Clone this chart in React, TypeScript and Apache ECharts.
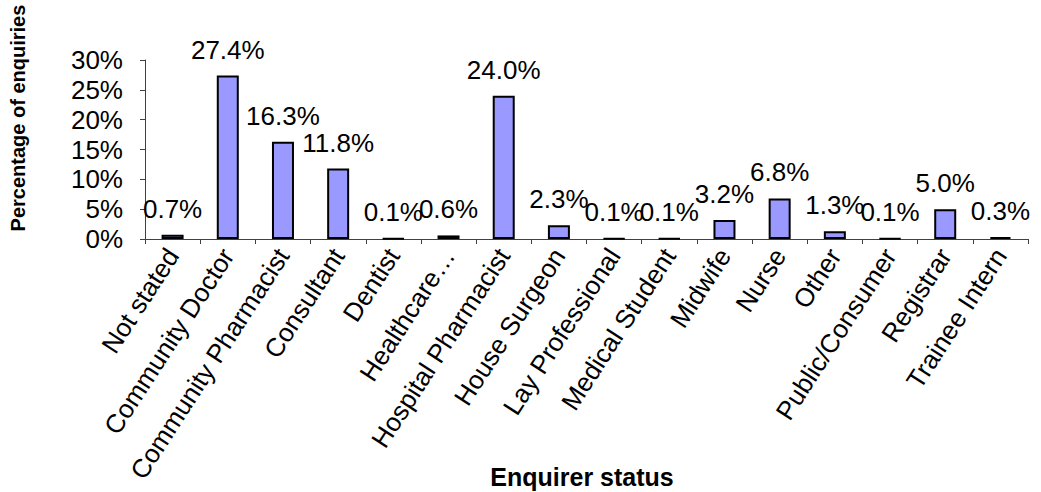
import React, { useEffect, useRef } from "react";
import * as echarts from "echarts";

const categories = [
  "Not stated",
  "Community Doctor",
  "Community Pharmacist",
  "Consultant",
  "Dentist",
  "Healthcare…",
  "Hospital Pharmacist",
  "House Surgeon",
  "Lay Professional",
  "Medical Student",
  "Midwife",
  "Nurse",
  "Other",
  "Public/Consumer",
  "Registrar",
  "Trainee Intern",
];
const percentages = [0.7, 27.4, 16.3, 11.8, 0.1, 0.6, 24.0, 2.3, 0.1, 0.1, 3.2, 6.8, 1.3, 0.1, 5.0, 0.3];
const yTicks = { min: 0, max: 30, interval: 5 };
const yTitle = "Percentage of enquiries";
const xTitle = "Enquirer status";

const FONT = "Liberation Sans, Arial, sans-serif";

export default function App() {
  const ref = useRef<HTMLDivElement>(null);
  useEffect(() => {
    if (!ref.current) return;
    const chart = echarts.init(ref.current, null, { renderer: "svg" });
    chart.setOption({
      animation: false,
      backgroundColor: "#fff",
      grid: { left: 145, right: 13, top: 60, bottom: 253, containLabel: false },
      xAxis: {
        type: "category",
        data: categories,
        boundaryGap: true,
        axisLine: { show: true, lineStyle: { color: "#404040", width: 1 } },
        axisTick: { show: true, length: 5, lineStyle: { color: "#404040" } },
        axisLabel: {
          interval: 0,
          rotate: 57,
          margin: 12,
          fontSize: 26,
          fontFamily: FONT,
          color: "#000",
        },
      },
      yAxis: {
        type: "value",
        min: yTicks.min,
        max: yTicks.max,
        interval: yTicks.interval,
        splitLine: { show: false },
        axisLine: { show: true, lineStyle: { color: "#404040", width: 1 } },
        axisTick: { show: true, length: 5, lineStyle: { color: "#404040" } },
        axisLabel: {
          formatter: "{value}%",
          margin: 22,
          fontSize: 26,
          fontFamily: FONT,
          color: "#000",
        },
      },
      graphic: [
        {
          type: "text",
          x: 18,
          y: 118,
          rotation: Math.PI / 2,
          style: {
            text: yTitle,
            font: `bold 20px ${FONT}`,
            fill: "#000",
            align: "center",
            verticalAlign: "middle",
          },
        },
        {
          type: "text",
          x: 582,
          y: 477,
          style: {
            text: xTitle,
            font: `bold 25px ${FONT}`,
            fill: "#000",
            align: "center",
            verticalAlign: "middle",
          },
        },
      ],
      series: [
        {
          type: "bar",
          data: percentages,
          barWidth: 22,
          itemStyle: { color: "#9999FF", borderColor: "#000", borderWidth: 2 },
          label: {
            show: true,
            position: "top",
            distance: 13,
            fontSize: 26,
            fontFamily: FONT,
            color: "#000",
            formatter: (p: any) => `${Number(p.value).toFixed(1)}%`,
          },
        },
      ],
    });
    return () => chart.dispose();
  }, []);
  return (
    <div
      ref={ref}
      style={{ position: "absolute", left: 0, top: 0, width: 1041, height: 492 }}
    />
  );
}
